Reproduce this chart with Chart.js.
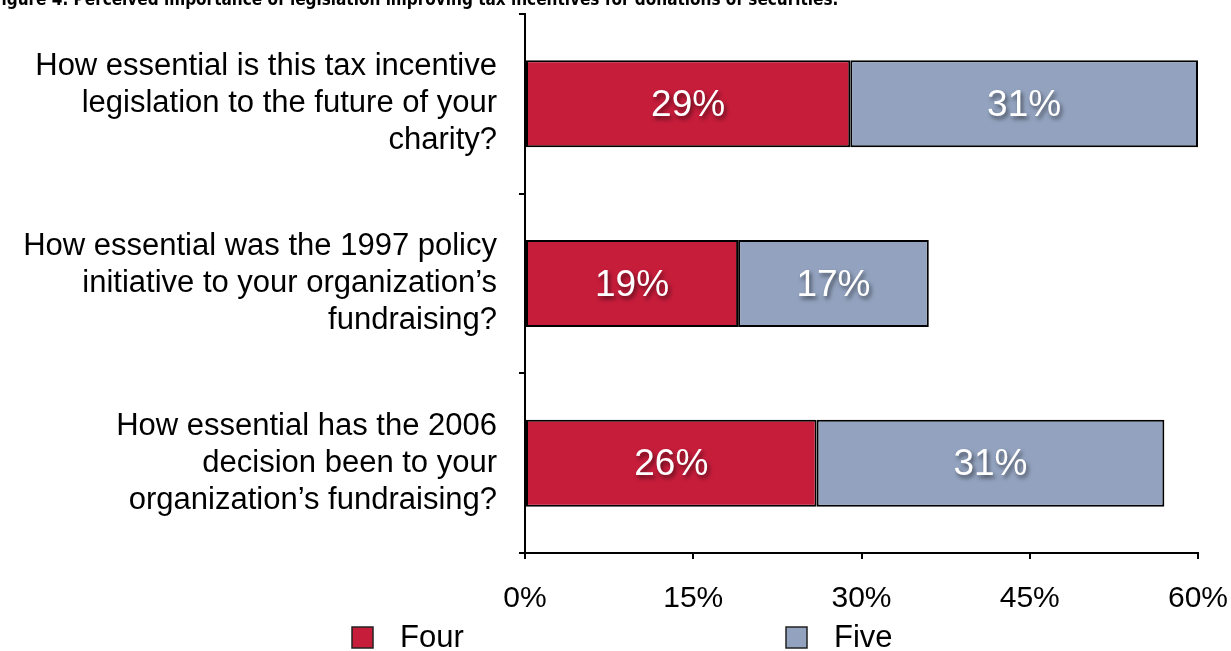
<!DOCTYPE html>
<html>
<head>
<meta charset="utf-8">
<script src="https://cdn.jsdelivr.net/npm/chart.js@4.4.1/dist/chart.umd.min.js"></script>
<style>
  html, body { margin: 0; padding: 0; background: #fff; }
  #wrap { width: 1231px; height: 651px; }
</style>
</head>
<body>
<div id="wrap"><canvas id="myChart" width="1231" height="651"></canvas></div>
<script>
const questions = [
    ["How essential is this tax incentive", "legislation to the future of your", "charity?"],
    ["How essential was the 1997 policy", "initiative to your organization\u2019s", "fundraising?"],
    ["How essential has the 2006", "decision been to your", "organization\u2019s fundraising?"]
];
const fourValues = [29, 19, 26];
const fiveValues = [31, 17, 31];
const xTicks = [0, 15, 30, 45, 60];
const titleText = "Figure 4. Perceived importance of legislation improving tax incentives for donations of securities.";

const FONT = '"Liberation Sans", Arial, sans-serif';

// title sits half cut off at the top edge, like the source
const titlePlugin = {
    id: 'clippedTitle',
    afterDraw(chart) {
        const ctx = chart.ctx;
        ctx.save();
        ctx.fillStyle = '#000';
        ctx.font = 'bold 17px "Liberation Sans Narrow", "DejaVu Sans Condensed", sans-serif';
        ctx.textBaseline = 'alphabetic';
        ctx.fillText(titleText, -9, 5);
        ctx.restore();
    }
};

// two legend entries spread apart under the axis
const legendPlugin = {
    id: 'wideLegend',
    afterDraw(chart) {
        const ctx = chart.ctx;
        const xs = [352, 786];
        ctx.save();
        ctx.font = '31px ' + FONT;
        ctx.textBaseline = 'middle';
        chart.data.datasets.forEach((ds, i) => {
            ctx.fillStyle = ds.backgroundColor;
            ctx.fillRect(xs[i], 627, 21, 21);
            ctx.strokeStyle = '#222';
            ctx.lineWidth = 1.5;
            ctx.strokeRect(xs[i], 627, 21, 21);
            ctx.fillStyle = '#000';
            ctx.fillText(ds.label, xs[i] + 48, 638);
        });
        ctx.restore();
    }
};

const barLabels = {
    id: 'barLabels',
    afterDatasetsDraw(chart) {
        const ctx = chart.ctx;
        ctx.save();
        ctx.font = '37px ' + FONT;
        ctx.fillStyle = '#fff';
        ctx.textAlign = 'center';
        ctx.textBaseline = 'middle';
        ctx.shadowColor = 'rgba(0,0,0,0.55)';
        ctx.shadowOffsetX = 2;
        ctx.shadowOffsetY = 3;
        ctx.shadowBlur = 4;
        chart.data.datasets.forEach((ds, i) => {
            chart.getDatasetMeta(i).data.forEach((bar, j) => {
                const cx = (bar.x + bar.base) / 2;
                ctx.fillText(ds.data[j] + '%', cx, bar.y + 2);
            });
        });
        ctx.restore();
    }
};

new Chart("myChart", {
    type: "bar",
    data: {
        labels: questions,
        datasets: [{
            label: "Four",
            data: fourValues,
            backgroundColor: "#c61d3b",
            borderColor: "#000",
            borderWidth: 2,
            borderSkipped: false
        }, {
            label: "Five",
            data: fiveValues,
            backgroundColor: "#93a3bf",
            borderColor: "#000",
            borderWidth: 2,
            borderSkipped: false
        }]
    },
    options: {
        indexAxis: 'y',
        responsive: false,
        animation: false,
        layout: { padding: { top: 14, right: 33, left: 0, bottom: 0 } },
        plugins: {
            legend: { display: false },
            tooltip: { enabled: false }
        },
        datasets: {
            bar: { categoryPercentage: 0.484, barPercentage: 1 }
        },
        scales: {
            x: {
                stacked: true,
                min: 0,
                max: 60,
                afterBuildTicks: axis => { axis.ticks = xTicks.map(v => ({ value: v })); },
                ticks: {
                    color: '#000',
                    padding: 22,
                    maxRotation: 0,
                    font: { size: 30, family: FONT },
                    callback: v => v + '%'
                },
                grid: { drawOnChartArea: false, tickLength: 6, color: '#000', lineWidth: 2 },
                border: { color: '#000', width: 2 },
                afterFit: axis => {
                    axis.height = 98;
                    axis.paddingLeft = 0;
                    axis.paddingRight = 0;
                }
            },
            y: {
                stacked: true,
                ticks: {
                    color: '#000',
                    padding: 22,
                    autoSkip: false,
                    font: { size: 31, lineHeight: 1.19, family: FONT }
                },
                grid: { drawOnChartArea: false, offset: true, tickLength: 6, color: '#000', lineWidth: 2 },
                border: { color: '#000', width: 2 },
                afterFit: axis => {
                    axis.width = 525;
                    axis.paddingTop = 0;
                    axis.paddingBottom = 0;
                }
            }
        }
    },
    plugins: [titlePlugin, barLabels, legendPlugin]
});
</script>
</body>
</html>
